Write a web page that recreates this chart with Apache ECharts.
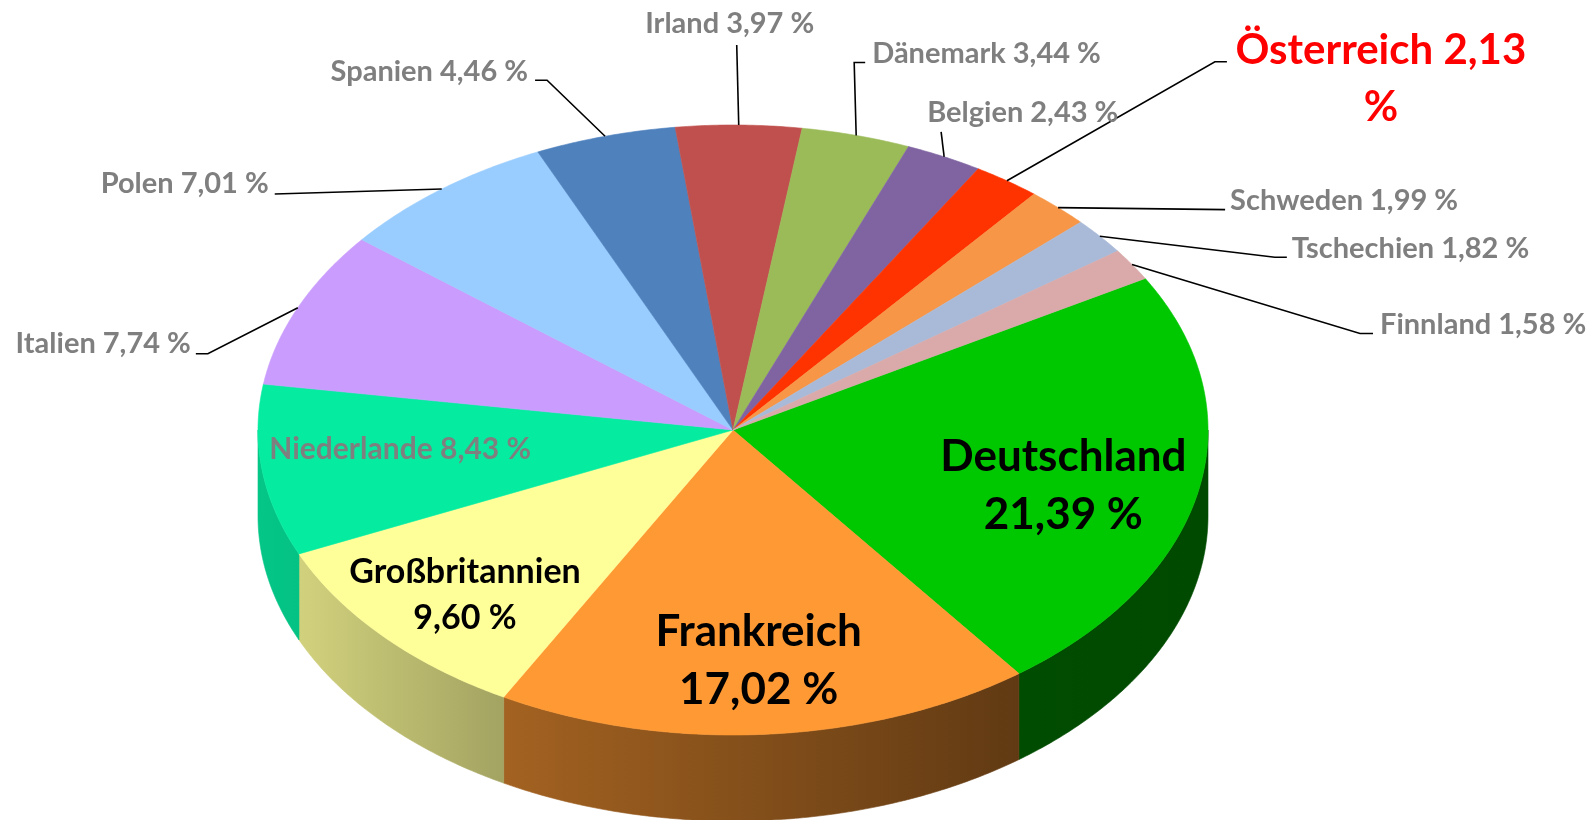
<!DOCTYPE html>
<html>
<head>
<meta charset="utf-8">
<title>Anteile</title>
<style>
  html, body { margin: 0; padding: 0; background: #fff; }
  #chart { width: 1593px; height: 820px; }
</style>
<script src="https://cdn.jsdelivr.net/npm/echarts/dist/echarts.min.js"></script>
</head>
<body>
<div id="chart"></div>
<script>
// Daten
const countries = ['Deutschland', 'Frankreich', 'Großbritannien', 'Niederlande', 'Italien', 'Polen', 'Spanien',
  'Irland', 'Dänemark', 'Belgien', 'Österreich', 'Schweden', 'Tschechien', 'Finnland']
const shares = [21.39, 17.02, 9.60, 8.43, 7.74, 7.01, 4.46, 3.97, 3.44, 2.43, 2.13, 1.99, 1.82, 1.58]
const sliceColors = ['#00c800', '#ff9933', '#ffff99', '#05eca0', '#c99cfd', '#99ccff', '#4f81bd',
  '#c0504d', '#9bbb59', '#8064a2', '#ff3300', '#f79646', '#a9bad9', '#d9aaa9']

// Geometrie der gekippten Torte
const CX = 733
const CY = 430
const RX = 475
const RY = 305
const DEPTH = 86
const START = 29.8 // Startwinkel, im Uhrzeigersinn
const FONT = 'Lato'

// Beschriftungen innen: Anteil am Radius + Feinschub
const insideLabels = {
  'Deutschland': { r: 0.71, dy: 12, size: 44, lh: 58, color: '#000', br: true },
  'Frankreich': { r: 0.76, dy: 0, size: 44, lh: 58, color: '#000', br: true },
  'Großbritannien': { r: 0.766, dy: 7, size: 34, lh: 46, color: '#000', br: true },
  'Niederlande': { r: 0.707, dy: -9, size: 30, lh: 34, color: '#7f7f7f', br: false }
}
// Beschriftungen außen: Ende der Führungslinie relativ zum Rand, Knick, Textversatz
const outsideLabels = {
  'Italien': { d: [-102, 46], elbow: 12, t: [-5, -10], align: 'right' },
  'Polen': { d: [-167, 5], elbow: 0, t: [-6, -10], align: 'right' },
  'Spanien': { d: [-70, -56], elbow: 12, t: [-7, -9], align: 'right' },
  'Irland': { d: [-2, -80], elbow: 0, t: [-7, -21], align: 'center' },
  'Dänemark': { d: [9, -73], elbow: 11, t: [7, -9], align: 'left' },
  'Belgien': { d: [-3, -25], elbow: 0, t: [-14, -19], align: 'left' },
  'Österreich': { d: [220, -119], elbow: 12, t: [154, 17], align: 'center', size: 42, lh: 57, color: '#ff0000', br: true },
  'Schweden': { d: [167, 2], elbow: 0, t: [5, -9], align: 'left' },
  'Tschechien': { d: [187, 21], elbow: 12, t: [5, -9], align: 'left' },
  'Finnland': { d: [241, 69], elbow: 13, t: [7, -9], align: 'left' }
}

const total = shares.reduce((a, b) => a + b, 0)
const startAngles = []
const endAngles = []
let acc = START
shares.forEach(v => {
  startAngles.push(acc)
  acc -= v / total * 360
  endAngles.push(acc)
})

function pt(deg, f, dz) {
  const r = deg * Math.PI / 180
  return [CX + RX * f * Math.cos(r), CY - RY * f * Math.sin(r) + (dz || 0)]
}

function shade(hex, k) {
  const n = parseInt(hex.slice(1), 16)
  const c = [(n >> 16) & 255, (n >> 8) & 255, n & 255].map(x => Math.round(x * k))
  return 'rgb(' + c.join(',') + ')'
}

function wallFill(color) {
  // Licht von links: Seitenwand nach rechts dunkler
  const stops = [[0, 0.84], [0.044, 0.82], [0.26, 0.64], [0.8, 0.38], [1, 0.37]]
  return new echarts.graphic.LinearGradient(CX - RX, 0, CX + RX, 0,
    stops.map(s => ({ offset: s[0], color: shade(color, s[1]) })), true)
}

function fmt(v) {
  return v.toFixed(2).replace('.', ',') + ' %'
}

function arc(a0, a1, dz) {
  const pts = []
  const n = Math.max(2, Math.ceil(Math.abs(a0 - a1) / 0.5))
  for (let k = 0; k <= n; k++) {
    pts.push(pt(a0 + (a1 - a0) * k / n, 1, dz))
  }
  return pts
}

function renderItem(params, api) {
  const i = params.dataIndex
  const name = countries[i]
  const value = api.value(0)
  const color = sliceColors[i]
  const a0 = startAngles[i]
  const a1 = endAngles[i]
  const mid = (a0 + a1) / 2
  const children = []

  // Seitenwand, nur vorne sichtbar
  const hi = Math.min(a0, 0)
  const lo = Math.max(a1, -180)
  if (hi > lo) {
    const top = arc(hi, lo, 0)
    const bottom = arc(lo, hi, DEPTH)
    children.push({
      type: 'polygon',
      z2: 1,
      shape: { points: top.concat(bottom) },
      style: { fill: wallFill(color), stroke: wallFill(color), lineWidth: 0.6 }
    })
  }

  // Deckfläche
  children.push({
    type: 'polygon',
    z2: 2,
    shape: { points: [[CX, CY]].concat(arc(a0, a1, 0)) },
    style: { fill: color, stroke: color, lineWidth: 0.6 }
  })

  const inL = insideLabels[name]
  if (inL) {
    const p = pt(mid, inL.r, 0)
    children.push({
      type: 'text',
      z2: 4,
      style: {
        text: name + (inL.br ? '\n' : ' ') + fmt(value),
        x: p[0],
        y: p[1] + inL.dy,
        fill: inL.color,
        fontFamily: FONT,
        fontWeight: 'bold',
        fontSize: inL.size,
        lineHeight: inL.lh,
        align: 'center',
        verticalAlign: 'middle'
      }
    })
  }

  const outL = outsideLabels[name]
  if (outL) {
    const a = pt(mid, 1, 0)
    const e = [a[0] + outL.d[0], a[1] + outL.d[1]]
    const side = outL.d[0] > 0 ? 1 : -1
    const line = [a]
    if (outL.elbow) line.push([e[0] - side * outL.elbow, e[1]])
    line.push(e)
    children.push({
      type: 'polyline',
      z2: 3,
      shape: { points: line },
      style: { stroke: '#000', lineWidth: 1.6, fill: null }
    })
    const size = outL.size || 29
    children.push({
      type: 'text',
      z2: 4,
      style: {
        text: name + (outL.br ? ' ' + fmt(value).replace(' %', '') + '\n%' : ' ' + fmt(value)),
        x: e[0] + outL.t[0],
        y: e[1] + outL.t[1],
        fill: outL.color || '#7f7f7f',
        fontFamily: FONT,
        fontWeight: 'bold',
        fontSize: size,
        lineHeight: outL.lh || size + 4,
        align: outL.align,
        verticalAlign: 'middle'
      }
    })
  }

  return { type: 'group', children: children }
}

const chart = echarts.init(document.getElementById('chart'))
chart.setOption({
  animation: false,
  backgroundColor: '#fff',
  series: [
    {
      type: 'custom',
      coordinateSystem: 'none',
      renderItem: renderItem,
      data: shares.map((v, i) => [v, i])
    }
  ]
})
</script>
</body>
</html>
